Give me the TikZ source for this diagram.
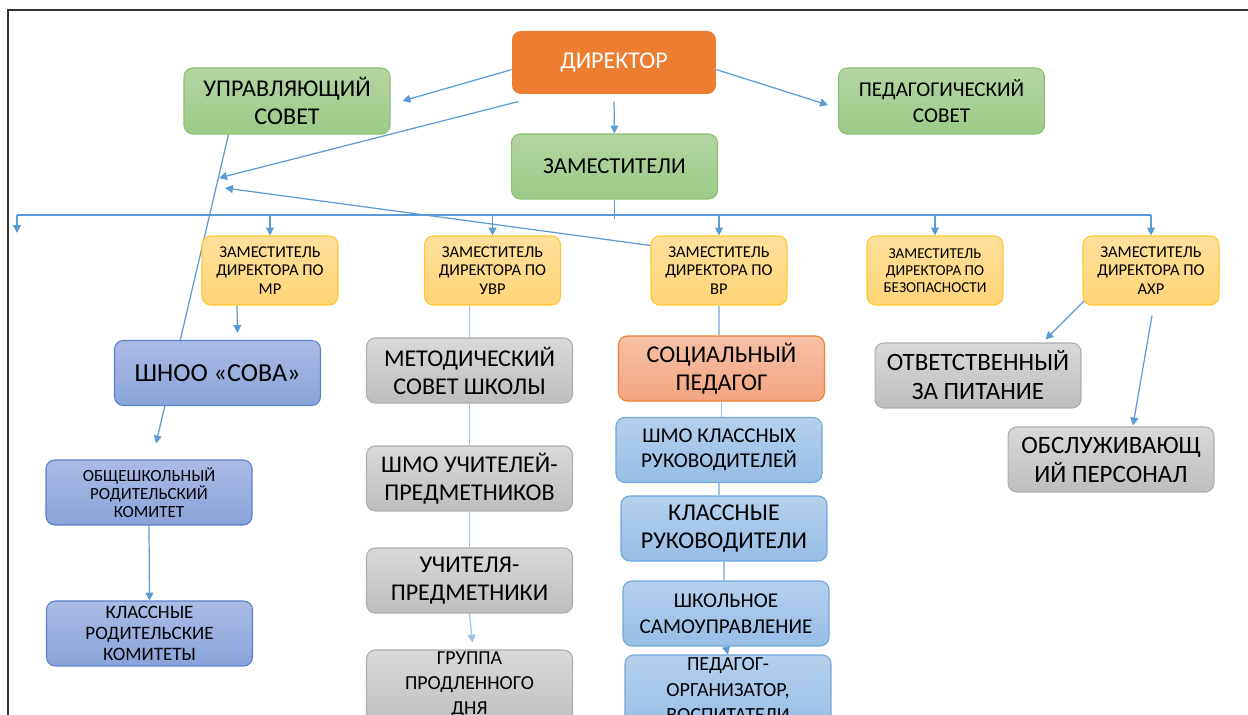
\documentclass[tikz,border=0pt]{standalone}
\usepackage{fontspec}
\setmainfont{Carlito}
\usetikzlibrary{arrows.meta,calc,backgrounds}
\definecolor{link}{HTML}{5B9BD5}
\definecolor{linklight}{HTML}{9DC3E6}
\definecolor{frameink}{HTML}{333333}
\definecolor{headfill}{HTML}{ED7D31}
\definecolor{greenT}{HTML}{B4D5A2}
\definecolor{greenB}{HTML}{9DCA86}
\definecolor{greenE}{HTML}{8CC070}
\definecolor{goldT}{HTML}{FFE09C}
\definecolor{goldB}{HTML}{FFD476}
\definecolor{goldE}{HTML}{FFC72C}
\definecolor{greyT}{HTML}{D9D9D9}
\definecolor{greyB}{HTML}{BEBEBE}
\definecolor{greyE}{HTML}{ADADAD}
\definecolor{violetT}{HTML}{ABBBE5}
\definecolor{violetB}{HTML}{8BA3D9}
\definecolor{violetE}{HTML}{5A7FCB}
\definecolor{skyT}{HTML}{B5D0EC}
\definecolor{skyB}{HTML}{96BEE6}
\definecolor{skyE}{HTML}{6EA6DC}
\definecolor{salmonT}{HTML}{F7C1A6}
\definecolor{salmonB}{HTML}{F4A47F}
\definecolor{salmonE}{HTML}{ED7D31}

\begin{document}
\begin{tikzpicture}[x=0.02cm,y=-0.02cm,>={Triangle[length=4.5pt,width=4.5pt]},
 box/.style={rounded corners=5pt,align=center,inner sep=1pt,line width=0.6pt,text=black},
 head/.style={box,fill=headfill,text=white,minimum width=4.08cm,minimum height=1.26cm,font=\fontsize{13.7}{16}\selectfont},
 council/.style={box,draw=greenE,top color=greenT,bottom color=greenB,minimum width=4.12cm,minimum height=1.32cm},
 deputy/.style={box,draw=goldE,top color=goldT,bottom color=goldB,minimum width=2.72cm,minimum height=1.38cm,font=\fontsize{9.4}{10.4}\selectfont},
 unit/.style={box,draw=greyE,top color=greyT,bottom color=greyB,minimum width=4.12cm,minimum height=1.3cm},
 parents/.style={box,draw=violetE,top color=violetT,bottom color=violetB,minimum width=4.12cm,minimum height=1.3cm},
 class/.style={box,draw=skyE,top color=skyT,bottom color=skyB,minimum width=4.12cm,minimum height=1.3cm},
 social/.style={box,draw=salmonE,top color=salmonT,bottom color=salmonB,minimum width=4.12cm,minimum height=1.3cm},
 big/.style={font=\fontsize{13.7}{15.9}\selectfont},
 mid/.style={font=\fontsize{12}{14.5}\selectfont},
 flow/.style={->,draw=link,line width=0.7pt},
 tie/.style={draw=linklight,line width=0.7pt}]
\path[use as bounding box] (0,0) rectangle (1248,715);
\clip (0,0) rectangle (1248,715);
\draw[frameink,line width=1.2pt] (8,715) -- (8,10) -- (1248,10);
% top level
\node[head] (dir) at (614,62.5) {ДИРЕКТОР};
\node[council,big] (us) at (287,101) {УПРАВЛЯЮЩИЙ\\СОВЕТ};
\node[council,mid] (ps) at (941.5,101) {ПЕДАГОГИЧЕСКИЙ\\СОВЕТ};
\node[council,font=\fontsize{13}{15}\selectfont,minimum height=1.3cm] (zam) at (614.5,166.5) {ЗАМЕСТИТЕЛИ};
% deputies
\node[deputy] (mr) at (270,270.5) {ЗАМЕСТИТЕЛЬ\\ДИРЕКТОРА ПО\\МР};
\node[deputy] (uvr) at (492.5,270.5) {ЗАМЕСТИТЕЛЬ\\ДИРЕКТОРА ПО\\УВР};
\node[deputy] (vr) at (719,270.5) {ЗАМЕСТИТЕЛЬ\\ДИРЕКТОРА ПО\\ВР};
\node[deputy,font=\fontsize{8.6}{9.7}\selectfont] (bez) at (935,270.5) {ЗАМЕСТИТЕЛЬ\\ДИРЕКТОРА ПО\\БЕЗОПАСНОСТИ};
\node[deputy] (ahr) at (1151,270.5) {ЗАМЕСТИТЕЛЬ\\ДИРЕКТОРА ПО\\АХР};
% left column
\node[parents,font=\fontsize{14.8}{17}\selectfont] (owl) at (217.5,373) {ШНОО «СОВА»};
\node[parents,font=\fontsize{9.7}{10.3}\selectfont] (pcom) at (149,492.5) {ОБЩЕШКОЛЬНЫЙ\\РОДИТЕЛЬСКИЙ\\КОМИТЕТ};
\node[parents,font=\fontsize{10.8}{12}\selectfont] (ccom) at (149.5,633.5) {КЛАССНЫЕ\\РОДИТЕЛЬСКИЕ\\КОМИТЕТЫ};
% teaching column
\node[unit,big] (msov) at (469.5,370.5) {МЕТОДИЧЕСКИЙ\\СОВЕТ ШКОЛЫ};
\node[unit,big] (shmo) at (469.5,478.5) {ШМО УЧИТЕЛЕЙ-\\ПРЕДМЕТНИКОВ};
\node[unit,big] (teach) at (469.5,580.5) {УЧИТЕЛЯ-\\ПРЕДМЕТНИКИ};
\node[unit,minimum height=1.6cm] (gpd) at (469.5,690) {};
\node[align=center,inner sep=0pt,font=\fontsize{11.3}{14.2}\selectfont] (gpdtext) at (469.5,685) {ГРУППА\\ПРОДЛЕННОГО\\ДНЯ};
% upbringing column
\node[social,big] (soc) at (721.5,368.5) {СОЦИАЛЬНЫЙ\\ПЕДАГОГ};
\node[class,mid] (shkr) at (719,450) {ШМО КЛАССНЫХ\\РУКОВОДИТЕЛЕЙ};
\node[class,big] (kr) at (724,528.5) {КЛАССНЫЕ\\РУКОВОДИТЕЛИ};
\node[class,mid] (su) at (726,613.5) {ШКОЛЬНОЕ\\САМОУПРАВЛЕНИЕ};
\node[class,minimum height=1.6cm] (po) at (728,695) {};
\node[align=center,inner sep=0pt,font=\fontsize{11.4}{14.5}\selectfont] (potext) at (728,690) {ПЕДАГОГ-\\ОРГАНИЗАТОР,\\ВОСПИТАТЕЛИ};
% household
\node[unit,font=\fontsize{14.2}{16.5}\selectfont] (food) at (978,375.5) {ОТВЕТСТВЕННЫЙ\\ЗА ПИТАНИЕ};
\node[unit,font=\fontsize{14.2}{16.5}\selectfont] (staff) at (1111,459.5) {ОБСЛУЖИВАЮЩ\\ИЙ ПЕРСОНАЛ};
% connectors
\coordinate (hubA) at (219,178);
\coordinate (hubB) at (225,188);
\coordinate (busL) at (17,215);
\coordinate (busR) at (ahr.north |- busL);
\coordinate (lost) at (17,233);
\begin{scope}[on background layer]
\draw[flow] (dir.184) -- ($(us.east)+(12,0)$);
\draw[flow] (dir.356) -- ($(ps.west)+(-10,4)$);
\draw[flow] ($(dir.south)+(0,7)$) -- (zam.north);
\draw[flow] ($(dir.south west)+(7,7)$) -- (hubA);
\draw[flow] ($(vr.north west)+(0,10)$) -- (hubB);
\draw[flow] ($(us.south west)+(45,0)$) -- ($(pcom.north)+(7,-16)$);
\draw[draw=link,line width=0.7pt] (zam.south) -- ++(0,19);
\draw[draw=link,line width=0.7pt] (busL) -- (busR);
\draw[flow] (busL) -- (lost);
\foreach \n in {mr,uvr,vr,bez,ahr} \draw[flow] (\n.north |- busL) -- (\n.north);
\draw[flow] ($(mr.south)+(-33,0)$) -- ($(owl.north)+(20,-7)$);
\draw[tie] (msov.north |- uvr.south) -- (msov.north);
\foreach \a/\b in {msov/shmo,shmo/teach} \draw[tie] (\a.south) -- (\b.north);
\draw[flow,draw=linklight] (teach.south) -- ($(gpd.north)+(3,-7)$);
\draw[tie] (vr.south) -- (vr.south |- soc.north);
\foreach \a/\b in {soc/shkr,shkr/kr,kr/su} \draw[tie] (\a.south) -- (\a.south |- \b.north);
\draw[flow] (su.south) -- (po.north);
\draw[flow] ($(ahr.south west)+(2,-5)$) -- ($(food.north east)+(-36,-3)$);
\draw[flow] ($(ahr.south)+(1,10)$) -- ($(staff.north)+(22,-1)$);
\draw[flow] (pcom.south) -- (ccom.north);
\end{scope}
\end{tikzpicture}
\end{document}
